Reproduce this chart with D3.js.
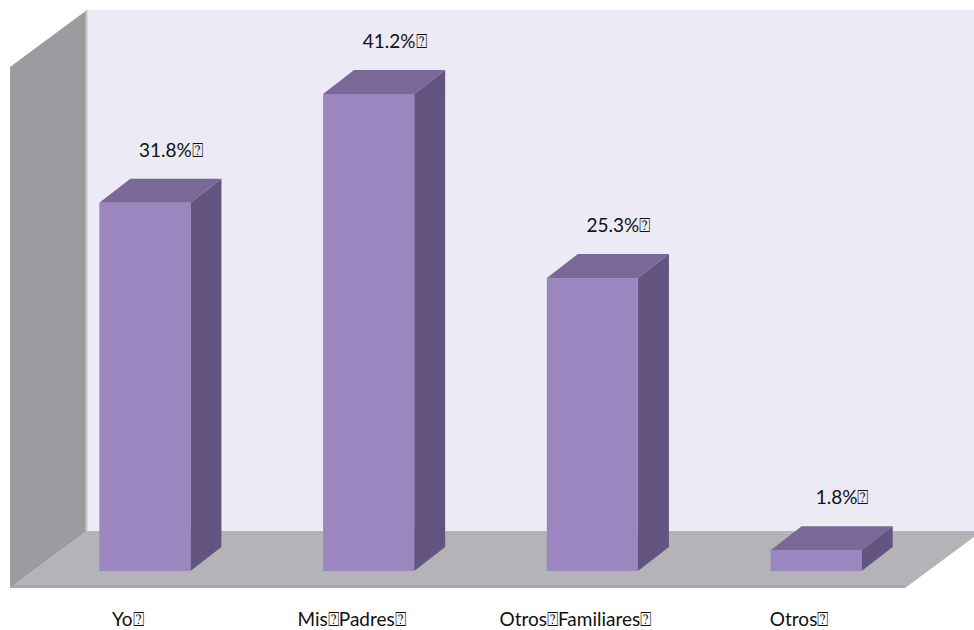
<!DOCTYPE html>
<html>
<head>
<meta charset="utf-8">
<script src="https://cdn.jsdelivr.net/npm/d3@7"></script>
<style>
  html, body { margin: 0; padding: 0; background: #ffffff; }
  svg { display: block; }
  text { font-family: Lato, "Open Sans", sans-serif; fill: #111; }
</style>
</head>
<body>
<svg id="chart" width="974" height="630"></svg>
<script>
// Category names and the share (%) for each bar
const categories = ["Yo", "Mis Padres", "Otros Familiares", "Otros"];
const shares = [31.8, 41.2, 25.3, 1.8];
// Label texts; the box glyph stands for the unrendered character in the source labels
const BOX = "\u2370";
const categoryLabels = ["Yo" + BOX, "Mis" + BOX + "Padres" + BOX, "Otros" + BOX + "Familiares" + BOX, "Otros" + BOX];
const valueLabels = shares.map(v => v.toFixed(1) + "%" + BOX);

const svg = d3.select("#chart");

// Plot geometry (front plane of the 3D box)
const frontLeft = 10, frontBottom = 588, wallTop = 10;
const depthX = 77, depthY = -57;             // wall / floor depth
const barDX = 31, barDY = -24;               // bar depth

const x = d3.scaleBand().domain(categories).range([33, 928]).padding(0);
const barW = x.bandwidth() * 0.407;
const y = d3.scaleLinear().domain([0, 45]).range([571, 50]);

// Back wall
const backLeft = frontLeft + depthX, backBottom = frontBottom + depthY;
svg.append("rect")
  .attr("x", backLeft).attr("y", wallTop)
  .attr("width", 974 - backLeft).attr("height", backBottom - wallTop)
  .attr("fill", "#eceaf5");

// Side wall
svg.append("polygon")
  .attr("points", [[frontLeft, wallTop - depthY], [backLeft, wallTop], [backLeft, backBottom], [frontLeft, frontBottom]].join(" "))
  .attr("fill", "#9d9ba0");
svg.append("line")
  .attr("x1", backLeft - 0.5).attr("x2", backLeft - 0.5)
  .attr("y1", wallTop).attr("y2", backBottom)
  .attr("stroke", "#c6c5ca").attr("stroke-width", 2);

// Floor
const floorRight = 905;
svg.append("polygon")
  .attr("points", [[frontLeft, frontBottom], [floorRight, frontBottom], [floorRight + depthX, backBottom], [backLeft, backBottom]].join(" "))
  .attr("fill", "#b4b3b8");
svg.append("rect")
  .attr("x", frontLeft).attr("y", frontBottom - 3)
  .attr("width", floorRight - frontLeft).attr("height", 3)
  .attr("fill", "#a7a6ab");

// Bars
const bars = svg.append("g").selectAll("g")
  .data(categories.map((c, i) => ({ c, v: shares[i], i })))
  .join("g");

const left = d => x(d.c) + (x.bandwidth() - barW) / 2;
const right = d => left(d) + barW;

bars.append("polygon") // side face
  .attr("points", d => [[right(d), y(d.v)], [right(d) + barDX, y(d.v) + barDY], [right(d) + barDX, y(0) + barDY], [right(d), y(0)]].join(" "))
  .attr("fill", "#635480");
bars.append("polygon") // top face
  .attr("points", d => [[left(d), y(d.v)], [left(d) + barDX, y(d.v) + barDY], [right(d) + barDX, y(d.v) + barDY], [right(d), y(d.v)]].join(" "))
  .attr("fill", "#7a6898");
bars.append("rect") // front face
  .attr("x", left).attr("y", d => y(d.v))
  .attr("width", barW).attr("height", d => y(0) - y(d.v))
  .attr("fill", "#9b86c0");

// Value labels
bars.append("text")
  .attr("x", d => left(d) + barW / 2 + 26)
  .attr("y", d => y(d.v) + barDY - 22)
  .attr("text-anchor", "middle")
  .attr("font-size", 19)
  .text(d => valueLabels[d.i]);

// Category labels
svg.append("g").selectAll("text")
  .data(categories)
  .join("text")
  .attr("x", c => x(c) + x.bandwidth() / 2 - 17)
  .attr("y", 626)
  .attr("text-anchor", "middle")
  .attr("font-size", 19)
  .text((c, i) => categoryLabels[i]);
</script>
</body>
</html>
